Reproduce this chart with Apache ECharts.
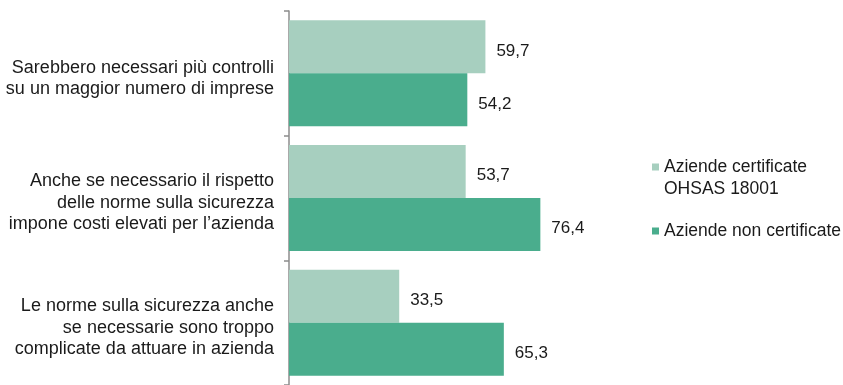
<!DOCTYPE html>
<html>
<head>
<meta charset="utf-8">
<script src="https://cdn.jsdelivr.net/npm/echarts@6/dist/echarts.min.js"></script>
<style>
  html, body { margin: 0; padding: 0; background: #fff; }
  #chart { width: 843px; height: 385px; }
</style>
</head>
<body>
<div id="chart"></div>
<script>
// Categories (top to bottom)
const categories = [
  'Sarebbero necessari più controlli\nsu un maggior numero di imprese',
  'Anche se necessario il rispetto\ndelle norme sulla sicurezza\nimpone costi elevati per l’azienda',
  'Le norme sulla sicurezza anche\nse necessarie sono troppo\ncomplicate da attuare in azienda'
];
const seriesNames = ['Aziende certificate OHSAS 18001', 'Aziende non certificate'];
// A leading blank line keeps the legend square beside the first text line
const legendLabels = [' \nAziende certificate\nOHSAS 18001', 'Aziende non certificate'];
const certificate = [59.7, 53.7, 33.5];
const nonCertificate = [54.2, 76.4, 65.3];
const colors = ['#a7cfbf', '#4aad8d'];

const chart = echarts.init(document.getElementById('chart'));
const fmt = p => p.value.toFixed(1).replace('.', ',');
const font = 'Liberation Sans, Arial, sans-serif';
const textColor = '#1a1a1a';

const valueLabel = {
  show: true, position: 'right', distance: 11, offset: [0, 4], formatter: fmt,
  fontSize: 17, color: textColor, fontFamily: font
};

// Category label: a short spacer line above nudges the text block slightly down
const categoryFormatter = v => '{s| }\n' + v.split('\n').map(l => '{a|' + l + '}').join('\n');

chart.setOption({
  animation: false,
  grid: { left: 289, top: 11, height: 378, width: 329 },
  xAxis: { type: 'value', min: 0, max: 100, show: false },
  yAxis: {
    type: 'category',
    data: categories,
    inverse: true,
    axisLine: { show: true, lineStyle: { color: '#8c8c8c', width: 1.5 } },
    axisTick: { show: true, inside: false, length: 5, lineStyle: { color: '#8c8c8c', width: 1.5 } },
    axisLabel: {
      margin: 15, align: 'right', formatter: categoryFormatter,
      fontSize: 18, lineHeight: 21.5, color: textColor, fontFamily: font,
      rich: {
        s: { fontSize: 2, lineHeight: 10 },
        a: { fontSize: 18, lineHeight: 21.5, color: textColor, fontFamily: font, align: 'right' }
      }
    }
  },
  legend: [
    {
      data: [seriesNames[0]], orient: 'vertical', left: 652, top: 134, padding: 0,
      itemWidth: 7, itemHeight: 7, itemGap: 0, icon: 'rect',
      formatter: () => legendLabels[0],
      textStyle: { fontSize: 17.5, lineHeight: 22, color: textColor, fontFamily: font }
    },
    {
      data: [seriesNames[1]], orient: 'vertical', left: 652, top: 220, padding: 0,
      itemWidth: 7, itemHeight: 7, itemGap: 0, icon: 'rect',
      formatter: () => legendLabels[1],
      textStyle: { fontSize: 17.5, lineHeight: 22, color: textColor, fontFamily: font }
    }
  ],
  series: [
    {
      name: seriesNames[0], type: 'bar', data: certificate,
      itemStyle: { color: colors[0] },
      barGap: '0%', barCategoryGap: '15%',
      label: valueLabel
    },
    {
      name: seriesNames[1], type: 'bar', data: nonCertificate,
      itemStyle: { color: colors[1] },
      barGap: '0%', barCategoryGap: '15%',
      label: valueLabel
    }
  ]
});
</script>
</body>
</html>
